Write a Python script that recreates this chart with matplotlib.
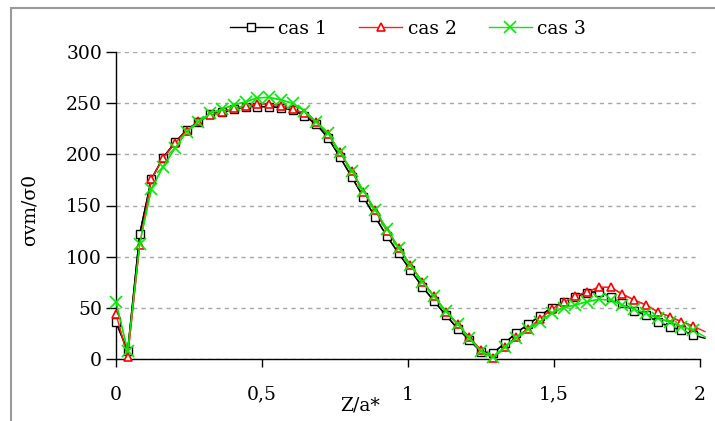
import matplotlib
matplotlib.use('Agg')
import matplotlib.pyplot as plt
from matplotlib.patches import Rectangle

##### data #####
z = [0, 0.04, 0.081, 0.121, 0.161, 0.202, 0.242, 0.282, 0.323, 0.363,
     0.403, 0.444, 0.484, 0.524, 0.565, 0.605, 0.645, 0.686, 0.726, 0.766,
     0.807, 0.847, 0.887, 0.928, 0.968, 1.008, 1.049, 1.089, 1.129, 1.17,
     1.21, 1.25, 1.291, 1.331, 1.371, 1.412, 1.452, 1.492, 1.533, 1.573,
     1.613, 1.654, 1.694, 1.734, 1.775, 1.815, 1.855, 1.896, 1.936, 1.976,
     2.017]

cas1 = [36, 8.4, 122, 175.6, 196.6, 211.6, 223.6, 231.7, 239, 241,
        243.8, 246.4, 246.4, 246.4, 245.4, 243.2, 237.6, 229.2, 216.1, 197.6,
        178, 158.3, 139, 120, 103.4, 87.1, 70.8, 56.9, 43.2, 30,
        18.8, 7.4, 5.9, 15.6, 26, 34.1, 42.5, 50.3, 56, 61,
        65, 66, 61, 54.6, 47.4, 43.2, 36.7, 31.8, 28.6, 23.7,
        20.5]

cas2 = [44, 2.5, 111.5, 175.6, 196, 210.7, 223, 232, 238, 241.5,
        244.8, 247, 249, 249, 247.4, 244, 240, 231, 219.4, 202,
        183.3, 163.5, 145.3, 125, 109, 92, 75.7, 61.7, 46.4, 34,
        21.5, 9, 1, 11.7, 21.5, 30, 39.3, 49, 55.6, 61.7,
        66, 70.2, 70.2, 63.7, 57.8, 53, 46.4, 41.6, 36.7, 32.5,
        27]

cas3 = [55.6, 8.4, 112.5, 166, 187.8, 205.8, 222, 231, 240, 244,
        248, 251.2, 255, 255.5, 253, 249.7, 242.5, 231.7, 220.4, 202.5,
        184, 164.5, 146, 127, 109, 91.5, 75.7, 61.7, 47, 34.5,
        20.5, 8.4, 2, 11.7, 20.5, 29.3, 36.7, 44.9, 50.5, 53,
        56.2, 58.5, 57.8, 53, 48.8, 44.9, 40, 36.7, 31.8, 28.6,
        22]

series = ['cas 1', 'cas 2', 'cas 3']
x_ticks = [0, 0.5, 1, 1.5, 2]
x_labels = ['0', '0,5', '1', '1,5', '2']
y_ticks = [0, 50, 100, 150, 200, 250, 300]

##### figure #####
plt.rcParams['font.family'] = ['DejaVu Serif']
W, H = 715, 421
fig = plt.figure(figsize=(W / 100, H / 100), dpi=100)

# chart area border (only top and left are visible)
fig.patches.append(Rectangle((11 / W, -0.2), 1.2, 1.2 - 8 / H,
                             transform=fig.transFigure, fill=False,
                             edgecolor='#9a9a9a', lw=1.5))

ax = fig.add_axes([116 / W, (H - 359.3) / H, 584 / W, 307.6 / H])

# last point lies just past x=2: line only, no marker there
n = len(z) - 1
styles = [
    dict(color='black', marker='s', ms=5.5, mfc='white', mec='black', mew=1),
    dict(color='#ff2020', marker='^', ms=6, mfc='white', mec='red', mew=1.2),
    dict(color='#00ee00', marker='x', ms=8, mec='#00ee00', mew=1.2),
]
for vals, name, st in zip([cas1, cas2, cas3], series, styles):
    ax.plot(z, vals, color=st['color'], lw=1, clip_on=False)
    ax.plot(z[:n], vals[:n], lw=1, label=name, clip_on=False, zorder=3, **st)

ax.set_xlim(0, 2)
ax.set_ylim(0, 300)
ax.set_xticks(x_ticks)
ax.set_xticklabels(x_labels)
ax.set_yticks(y_ticks)

for s in ['top', 'right']:
    ax.spines[s].set_visible(False)
ax.spines['left'].set_linewidth(1)
ax.spines['bottom'].set_linewidth(1)

ax.yaxis.grid(True, color='#a8a8a8', linestyle=(0, (3, 3)), lw=1)
ax.set_axisbelow(True)
ax.tick_params(axis='y', direction='out', length=7, width=1, pad=3, labelsize=13.5)
ax.tick_params(axis='x', direction='out', length=6, width=1, pad=13, labelsize=13.5)

fig.text(360 / W, 1 - 405 / H, 'Z/a*', ha='center', va='center', fontsize=13.5)
fig.text(30 / W, 1 - 210 / H, 'σvm/σ0', ha='center', va='center',
         rotation=90, fontsize=13.5)

fig.legend(loc='center', bbox_to_anchor=(408 / W, 1 - 29 / H), ncol=3,
           frameon=False, fontsize=13.5, handlelength=2.3,
           handletextpad=0.3, columnspacing=1.7, borderpad=0)

fig.savefig('out.png', dpi=100)
